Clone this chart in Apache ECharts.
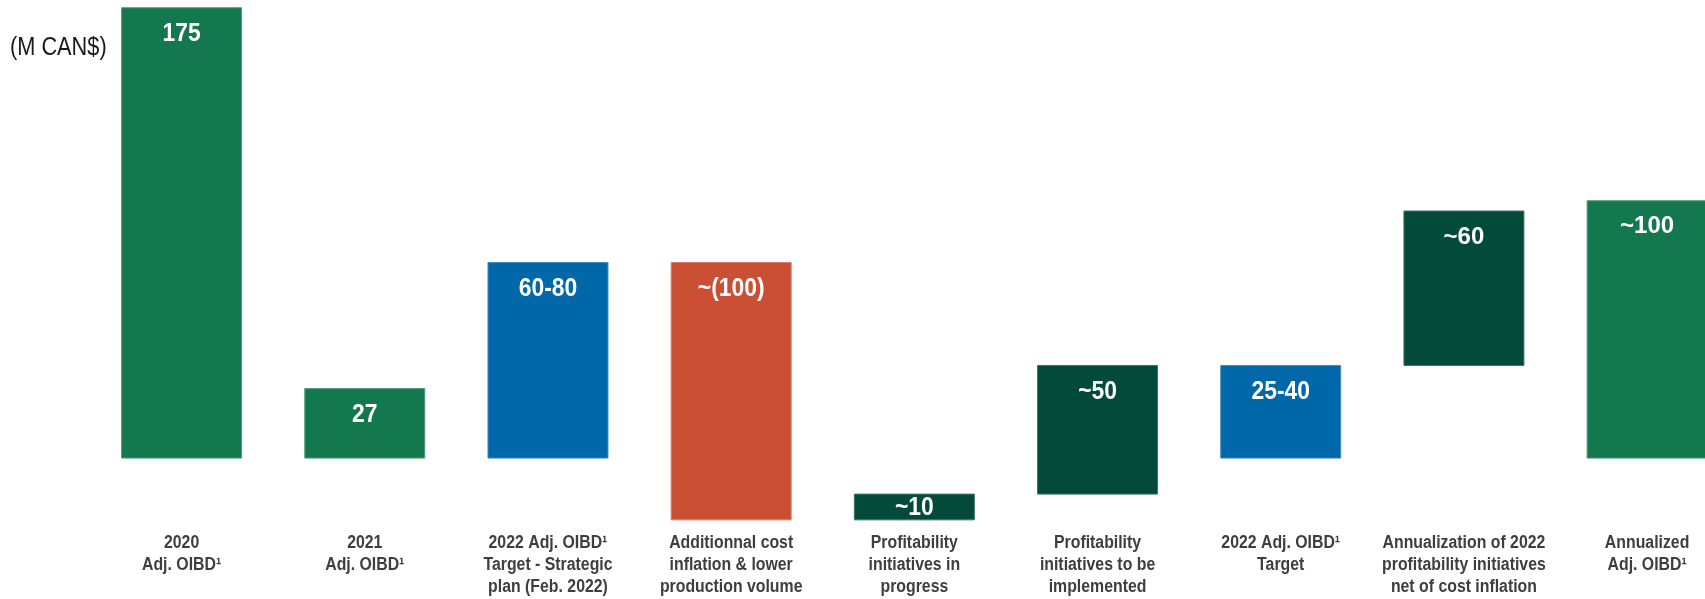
<!DOCTYPE html>
<html>
<head>
<meta charset="utf-8">
<script src="https://cdn.jsdelivr.net/npm/echarts@6/dist/echarts.min.js"></script>
<style>
  html, body { margin: 0; padding: 0; background: #ffffff; }
  #chart { width: 1705px; height: 599px; }
</style>
</head>
<body>
<div id="chart"></div>
<script>
// Adjusted OIBD bridge, in millions of Canadian dollars
const categories = [
  '2020\nAdj. OIBD¹',
  '2021\nAdj. OIBD¹',
  '2022 Adj. OIBD¹\nTarget - Strategic\nplan (Feb. 2022)',
  'Additionnal cost\ninflation & lower\nproduction volume',
  'Profitability\ninitiatives in\nprogress',
  'Profitability\ninitiatives to be\nimplemented',
  '2022 Adj. OIBD¹\nTarget',
  'Annualization of 2022\nprofitability initiatives\nnet of cost inflation',
  'Annualized\nAdj. OIBD¹'
];
// each step runs from barStart to barEnd
const barStart = [0, 0, 0, 76, -24, -14, 0, 36, 0];
const barEnd = [175, 27, 76, -24, -14, 36, 36, 96, 100];
const valueLabels = ['175', '27', '60-80', '~(100)', '~10', '~50', '25-40', '~60', '~100'];
const barKinds = ['actual', 'actual', 'target', 'decrease', 'increase', 'increase', 'target', 'increase', 'actual'];

const kindColors = {
  actual: '#14784E',
  target: '#0067A8',
  decrease: '#CB4F35',
  increase: '#034A3B'
};
const kindEdges = {
  actual: '#4E9C7B',
  target: '#3F8EC4',
  decrease: '#DA7E6B',
  increase: '#3D7468'
};

// a condensed look: Liberation Sans squeezed horizontally
const sans = '"Liberation Sans", Arial, sans-serif';
const squeeze = 0.88;

const chart = echarts.init(document.getElementById('chart'), null, { renderer: 'canvas' });

chart.setOption({
  backgroundColor: '#ffffff',
  animation: false,
  graphic: [{
    type: 'text',
    x: 10,
    y: 48,
    scaleX: 0.87,
    style: {
      text: '(M CAN$)',
      fontFamily: sans,
      fontSize: 25,
      fill: '#1A1A1A',
      verticalAlign: 'middle'
    }
  }],
  grid: { left: 90, top: 0, right: 0, height: 525 },
  // step positions on a numeric axis; the last step runs past the right edge
  xAxis: {
    type: 'value',
    min: -0.5,
    max: 8.316,
    show: false,
    splitLine: { show: false }
  },
  yAxis: {
    type: 'value',
    min: -26,
    max: 178,
    show: false,
    splitLine: { show: false }
  },
  series: [{
    type: 'custom',
    clip: false,
    encode: { x: 0, y: [1, 2] },
    data: categories.map((c, i) => [i, barStart[i], barEnd[i]]),
    renderItem: function (params, api) {
      const i = api.value(0);
      const a = api.value(1);
      const b = api.value(2);
      const top = api.coord([i, Math.max(a, b)]);
      const bottom = api.coord([i, Math.min(a, b)]);
      const w = api.size([1, 0])[0] * 0.655;
      const h = bottom[1] - top[1];
      const kind = barKinds[i];
      const axisBottom = params.coordSys.y + params.coordSys.height;
      // the two annualized steps carry wider value figures
      const wide = i >= 7;
      return {
        type: 'group',
        children: [{
          type: 'rect',
          shape: { x: top[0] - w / 2, y: top[1], width: w, height: h },
          style: { fill: kindColors[kind], stroke: kindEdges[kind], lineWidth: 1 }
        }, {
          type: 'text',
          x: top[0],
          y: h < 40 ? top[1] + h / 2 + 1 : top[1] + 26,
          scaleX: wide ? 1 : squeeze,
          style: {
            text: valueLabels[i],
            fill: '#FFFFFF',
            fontFamily: sans,
            fontWeight: 'bold',
            fontSize: wide ? 24 : 26,
            align: 'center',
            verticalAlign: 'middle'
          }
        }, {
          type: 'text',
          x: top[0],
          y: axisBottom + 7,
          scaleX: squeeze,
          style: {
            text: categories[i],
            fill: '#3E3E3E',
            fontFamily: sans,
            fontWeight: 'bold',
            fontSize: 18,
            lineHeight: 22,
            align: 'center',
            verticalAlign: 'top'
          }
        }]
      };
    }
  }]
});
</script>
</body>
</html>
